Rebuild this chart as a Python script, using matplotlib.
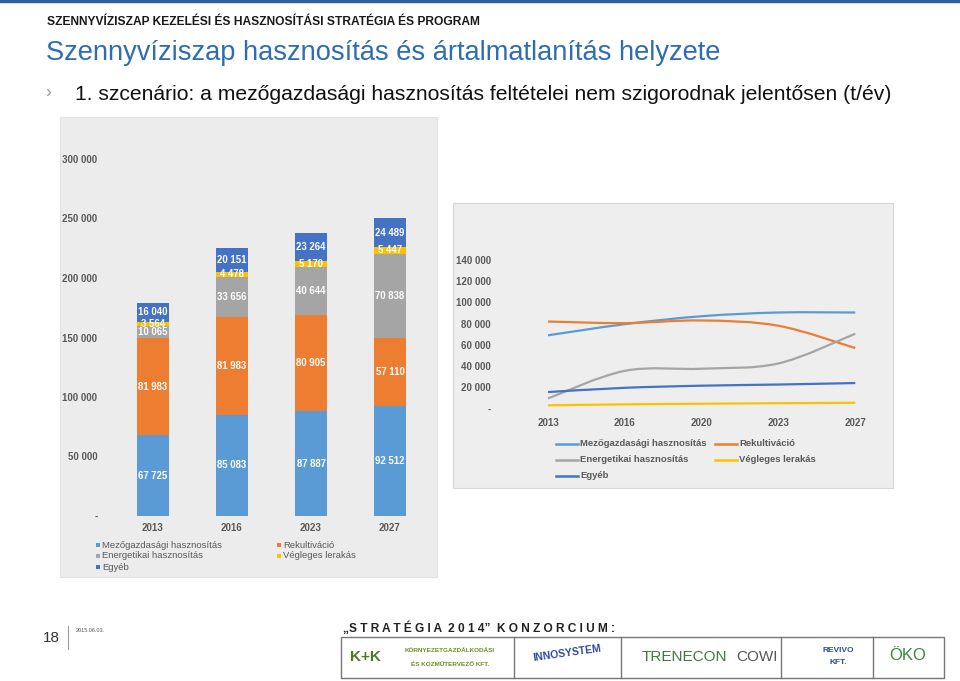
import matplotlib
matplotlib.use('Agg')
import matplotlib.pyplot as plt
from matplotlib.patches import Rectangle, PathPatch
from matplotlib.path import Path
from matplotlib.lines import Line2D

# === 資料 (bar chart) ===
bar_years = ['2013', '2016', '2023', '2027']
series_names = ['Mezőgazdasági hasznosítás', 'Rekultiváció', 'Energetikai hasznosítás',
                'Végleges lerakás', 'Egyéb']
series_colors = ['#5b9bd5', '#ed7d31', '#a5a5a5', '#ffc000', '#4472c4']
mezo = [67725, 85083, 87887, 92512]
rekult = [81983, 81983, 80905, 57110]
energ = [10065, 33656, 40644, 70838]
vegleges = [3564, 4478, 5170, 5447]
egyeb = [16040, 20151, 23264, 24489]
bar_yticks = [0, 50000, 100000, 150000, 200000, 250000, 300000]

# === 資料 (line chart) ===
line_years = ['2013', '2016', '2020', '2023', '2027']
mezo_line = [69000, 79500, 87000, 90500, 90500]
rekult_line = [82000, 80500, 83000, 78000, 57000]
energ_line = [9500, 35500, 37500, 42500, 70500]
vegleges_line = [3000, 3900, 4500, 5000, 5400]
egyeb_line = [15500, 19500, 21500, 22600, 24000]
line_yticks = [0, 20000, 40000, 60000, 80000, 100000, 120000, 140000]

W, H = 960, 681
fig = plt.figure(figsize=(9.6, 6.81), dpi=100)
fig.patch.set_facecolor('white')
renderer = fig.canvas.get_renderer()

ARIAL = ['Liberation Sans', 'DejaVu Sans']
TXT = '#595959'


def fx(x): return x / W
def fy(y): return 1 - y / H


def px_axes(x0, y0, x1, y1):
    a = fig.add_axes([fx(x0), fy(y1), fx(x1) - fx(x0), (y1 - y0) / H])
    a.set_zorder(2)
    return a


def fit(t, width):
    bb = t.get_window_extent(renderer)
    t.set_fontsize(t.get_fontsize() * width / bb.width)


def fmt(v):
    return '-' if v == 0 else f'{v:,}'.replace(',', ' ')


# === 頁首 ===
fig.add_artist(Line2D([0, 1], [fy(1), fy(1)], color='#2e5f9e', lw=2.5))
t = fig.text(fx(47), fy(22), 'SZENNYVÍZISZAP KEZELÉSI ÉS HASZNOSÍTÁSI STRATÉGIA ÉS PROGRAM',
             family=ARIAL, weight='bold', fontsize=9, color='#1a1a1a', va='center')
fit(t, 433)
t = fig.text(fx(46), fy(53), 'Szennyvíziszap hasznosítás és ártalmatlanítás helyzete',
             family=ARIAL, fontsize=20, color='#2e6db4', va='center')
fit(t, 672)
fig.text(fx(45), fy(93), '›', family=ARIAL, fontsize=13, color='#9a9a9a', va='center')
t = fig.text(fx(75), fy(95), '1. szcenário: a mezőgazdasági hasznosítás feltételei nem szigorodnak jelentősen (t/év)',
             family=ARIAL, fontsize=15, color='#111111', va='center')
fit(t, 822)

# === 左圖: 堆疊長條 ===
fig.add_artist(Rectangle((fx(60), fy(577)), fx(437) - fx(60), (577 - 117) / H,
                         transform=fig.transFigure, facecolor='#ececec', edgecolor='#e2e2e2',
                         lw=0.8, zorder=-1))
ax = px_axes(101.6, 159, 437.4, 516)
ax.set_facecolor('none')
x = list(range(len(bar_years)))
stack = [mezo, rekult, energ, vegleges, egyeb]
bottom = [0] * len(x)
for vals, col in zip(stack, series_colors):
    ax.bar(x, vals, width=0.405, bottom=bottom, color=col, edgecolor='none')
    for i, v in enumerate(vals):
        ax.text(i, bottom[i] + v / 2, fmt(v), ha='center', va='center', color='white',
                fontsize=6.9, weight='bold', family=ARIAL)
    bottom = [b + v for b, v in zip(bottom, vals)]
ax.set_xlim(-0.65, 3.6)
ax.set_ylim(0, 300000)
ax.set_yticks(bar_yticks)
ax.set_yticklabels([fmt(v) for v in bar_yticks])
ax.set_xticks(x)
ax.set_xticklabels(bar_years)
for s in ax.spines.values():
    s.set_visible(False)
ax.tick_params(length=0, labelsize=7, labelcolor=TXT, pad=3)
ax.tick_params(axis='x', pad=5)
for lab in ax.get_xticklabels() + ax.get_yticklabels():
    lab.set_family(ARIAL)
    lab.set_fontweight('bold')

# legend (左)
for k, (name, col) in enumerate(zip(series_names, series_colors)):
    col_i, row_i = k % 2, k // 2
    lx = 96 if col_i == 0 else 277
    ly = 545 + 11 * row_i
    fig.add_artist(Rectangle((fx(lx), fy(ly + 2.2)), 4.4 / W, 4.4 / H,
                             transform=fig.transFigure, facecolor=col, edgecolor='none'))
    fig.text(fx(lx + 6), fy(ly), name, family=ARIAL, fontsize=6.8, color=TXT, va='center')

# === 右圖: 平滑折線 ===
fig.add_artist(Rectangle((fx(453), fy(488)), fx(893) - fx(453), (488 - 203) / H,
                         transform=fig.transFigure, facecolor='#eeeeee', edgecolor='#d6d6d6',
                         lw=0.8, zorder=-1))
ax2 = px_axes(495, 260, 886, 408.5)
ax2.set_facecolor('none')


def smooth_path(ys):
    # Bezier segments (Excel style smoothing)
    pts = list(zip(range(len(ys)), ys))
    verts = [pts[0]]
    codes = [Path.MOVETO]
    for i in range(len(pts) - 1):
        p0 = pts[i - 1] if i > 0 else pts[i]
        p1, p2 = pts[i], pts[i + 1]
        p3 = pts[i + 2] if i + 2 < len(pts) else pts[i + 1]
        c1 = (p1[0] + (p2[0] - p0[0]) / 6, p1[1] + (p2[1] - p0[1]) / 6)
        c2 = (p2[0] - (p3[0] - p1[0]) / 6, p2[1] - (p3[1] - p1[1]) / 6)
        verts += [c1, c2, p2]
        codes += [Path.CURVE4] * 3
    return Path(verts, codes)


lines = [mezo_line, rekult_line, energ_line, vegleges_line, egyeb_line]
for vals, col in zip(lines, series_colors):
    ax2.add_patch(PathPatch(smooth_path(vals), facecolor='none', edgecolor=col, lw=1.6,
                            capstyle='butt'))
ax2.set_xlim(-0.69, 4.4)
ax2.set_ylim(0, 140000)
ax2.set_xticks(range(len(line_years)))
ax2.set_xticklabels(line_years)
ax2.set_yticks(line_yticks)
ax2.set_yticklabels([fmt(v) for v in line_yticks])
for s in ax2.spines.values():
    s.set_visible(False)
ax2.tick_params(length=0, labelsize=7, labelcolor=TXT, pad=3)
ax2.tick_params(axis='x', pad=7)
for lab in ax2.get_xticklabels() + ax2.get_yticklabels():
    lab.set_family(ARIAL)
    lab.set_fontweight('bold')

# legend (右)
for k, (name, col) in enumerate(zip(series_names, series_colors)):
    col_i, row_i = k % 2, k // 2
    lx = 556 if col_i == 0 else 715
    ly = 444 + 16 * row_i
    fig.add_artist(Line2D([fx(lx), fx(lx + 22)], [fy(ly), fy(ly)], color=col, lw=1.8))
    fig.text(fx(lx + 24), fy(ly), name, family=ARIAL, fontsize=6.8, color=TXT,
             weight='bold', va='center')

# === 頁尾 ===
fig.text(fx(43), fy(638), '18', family=ARIAL, fontsize=11, color='#333333', va='center')
fig.add_artist(Line2D([fx(68), fx(68)], [fy(626), fy(649)], color='#9a9a9a', lw=0.8))
fig.text(fx(76), fy(631), '2015.06.03.', family=ARIAL, fontsize=4, color='#555555', va='center')
t = fig.text(fx(343), fy(628), '„S T R A T É G I A  2 0 1 4”  K O N Z O R C I U M :', family=ARIAL,
             weight='bold', fontsize=9, color='#222222', va='center')
fit(t, 274)

cells = [341, 514, 621, 781, 873, 944]
fig.add_artist(Rectangle((fx(341), fy(678)), fx(944) - fx(341), (678 - 637) / H,
                         transform=fig.transFigure, facecolor='white', edgecolor='#777777',
                         lw=1, zorder=-1))
for cx in cells[1:-1]:
    fig.add_artist(Line2D([fx(cx), fx(cx)], [fy(637), fy(678)], color='#777777', lw=1))
fig.text(fx(365), fy(657), 'K+K', family=ARIAL, fontsize=11, color='#4d7a2a', weight='bold',
         ha='center', va='center')
fig.text(fx(450), fy(651), 'KÖRNYEZETGAZDÁLKODÁSI', family=ARIAL, fontsize=4.6, color='#6f8f1e',
         weight='bold', ha='center', va='center')
fig.text(fx(450), fy(664), 'ÉS KOZMŰTERVEZŐ KFT.', family=ARIAL, fontsize=4.6, color='#6f8f1e',
         weight='bold', ha='center', va='center')
fig.text(fx(567), fy(653), 'INNOSYSTEM', family=ARIAL, fontsize=7.5, color='#2b4aa0', weight='bold',
         ha='center', va='center', rotation=8)
fig.text(fx(684), fy(657), 'TRENECON', family=ARIAL, fontsize=11, color='#3b7b3b',
         ha='center', va='center')
fig.text(fx(757), fy(657), 'COWI', family=ARIAL, fontsize=11, color='#555555',
         ha='center', va='center')
fig.text(fx(838), fy(650), 'REVIVO', family=ARIAL, fontsize=6, color='#2b4aa0', weight='bold',
         ha='center', va='center')
fig.text(fx(838), fy(663), 'KFT.', family=ARIAL, fontsize=6, color='#2b4aa0', weight='bold',
         ha='center', va='center')
fig.text(fx(908), fy(655), 'ÖKO', family=ARIAL, fontsize=12, color='#3a8a3a',
         ha='center', va='center')

fig.savefig('out.png', dpi=100)
